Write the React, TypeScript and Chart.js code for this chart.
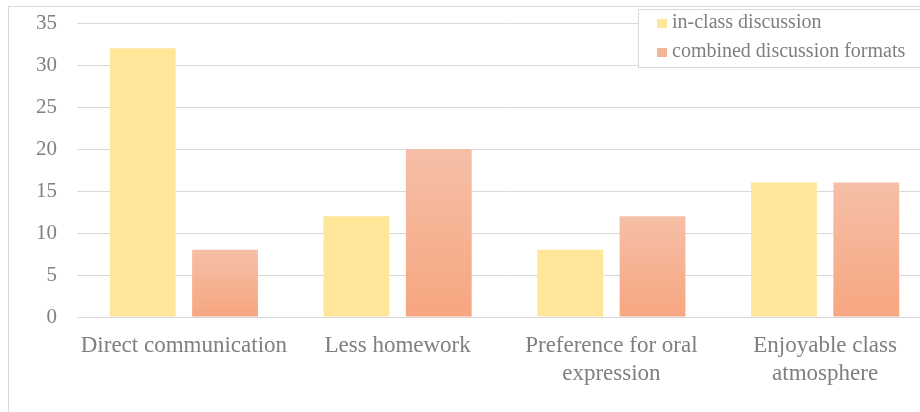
import React, { useEffect, useRef } from 'react';
import { Chart, registerables } from 'chart.js';

Chart.register(...registerables);

const categories: string[][] = [
  ['Direct communication'],
  ['Less homework'],
  ['Preference for oral', 'expression'],
  ['Enjoyable class', 'atmosphere'],
];
const seriesNames = ['in-class discussion', 'combined discussion formats'];
const inClassValues = [32, 12, 8, 16];
const combinedValues = [8, 20, 12, 16];
const yMin = 0;
const yMax = 35;
const yStep = 5;

const TEXT = '#7f7f7f';
const GRID = '#d9d9d9';
const FONT = '"Liberation Serif", "Times New Roman", serif';
const YELLOW = '#FFE699';
const SALMON_TOP = '#F5BFA7';
const SALMON_BOTTOM = '#F7A680';
const SALMON_KEY = '#F4B496';

const salmonGradient = (c: any) => {
  const chart = c.chart;
  const y = chart.scales && chart.scales.y;
  if (!y || c.type !== 'data') return SALMON_KEY;
  const top = y.getPixelForValue(c.raw);
  const bottom = y.getPixelForValue(0);
  if (!isFinite(top) || !isFinite(bottom) || top === bottom) return SALMON_KEY;
  const g = chart.ctx.createLinearGradient(0, top, 0, bottom);
  g.addColorStop(0, SALMON_TOP);
  g.addColorStop(1, SALMON_BOTTOM);
  return g;
};

const boxLegend = {
  id: 'boxLegend',
  afterDraw(chart: any) {
    const ctx = chart.ctx;
    ctx.save();
    ctx.fillStyle = '#ffffff';
    ctx.strokeStyle = GRID;
    ctx.lineWidth = 1;
    ctx.fillRect(629.5, 2.5, 400, 58);
    ctx.strokeRect(629.5, 2.5, 400, 58);
    const keys = [YELLOW, SALMON_KEY];
    ctx.font = '20px ' + FONT;
    ctx.textBaseline = 'alphabetic';
    ctx.textAlign = 'left';
    seriesNames.forEach((name, i) => {
      const base = 21 + i * 29;
      ctx.fillStyle = keys[i];
      ctx.fillRect(648, base - 9, 10, 9);
      ctx.fillStyle = TEXT;
      ctx.fillText(name, 663, base);
    });
    ctx.restore();
  },
};

export default function App() {
  const ref = useRef<HTMLCanvasElement | null>(null);

  useEffect(() => {
    if (!ref.current) return;
    const chart = new Chart(ref.current, {
      type: 'bar',
      data: {
        labels: categories,
        datasets: [
          {
            label: seriesNames[0],
            data: inClassValues,
            backgroundColor: YELLOW,
            borderWidth: 0,
            categoryPercentage: 0.77,
            barPercentage: 0.8,
          },
          {
            label: seriesNames[1],
            data: combinedValues,
            backgroundColor: salmonGradient,
            borderWidth: 0,
            categoryPercentage: 0.77,
            barPercentage: 0.8,
          },
        ],
      },
      options: {
        responsive: false,
        animation: false,
        devicePixelRatio: 1,
        layout: { padding: { top: 16, right: 27, bottom: 0, left: 0 } },
        plugins: {
          legend: { display: false },
          tooltip: { enabled: false },
          title: { display: false },
        },
        scales: {
          x: {
            grid: { display: false, drawTicks: false },
            border: { display: true, color: GRID, width: 1 },
            ticks: {
              color: TEXT,
              padding: 15,
              maxRotation: 0,
              autoSkip: false,
              font: { family: FONT, size: 23, lineHeight: 28 / 23 },
            },
            afterFit: (s: any) => {
              s.height = 110;
            },
          },
          y: {
            min: yMin,
            max: yMax,
            grid: {
              color: GRID,
              lineWidth: 1,
              drawTicks: true,
              tickLength: 20,
              tickColor: 'rgba(0,0,0,0)',
            },
            border: { display: false },
            ticks: {
              stepSize: yStep,
              color: TEXT,
              padding: 0,
              font: { family: FONT, size: 21 },
            },
            afterFit: (s: any) => {
              s.width = 68;
            },
          },
        },
      },
      plugins: [boxLegend],
    });
    return () => chart.destroy();
  }, []);

  return (
    <div
      style={{
        position: 'absolute',
        left: 0,
        top: 0,
        width: 920,
        height: 412,
        overflow: 'hidden',
        background: '#fff',
      }}
    >
      <div
        style={{
          position: 'absolute',
          left: 8,
          top: 6,
          width: 960,
          height: 440,
          border: '1px solid ' + GRID,
          boxSizing: 'border-box',
        }}
      />
      <canvas
        ref={ref}
        width={950}
        height={420}
        style={{ position: 'absolute', left: 9, top: 7, width: 950, height: 420 }}
      />
    </div>
  );
}
